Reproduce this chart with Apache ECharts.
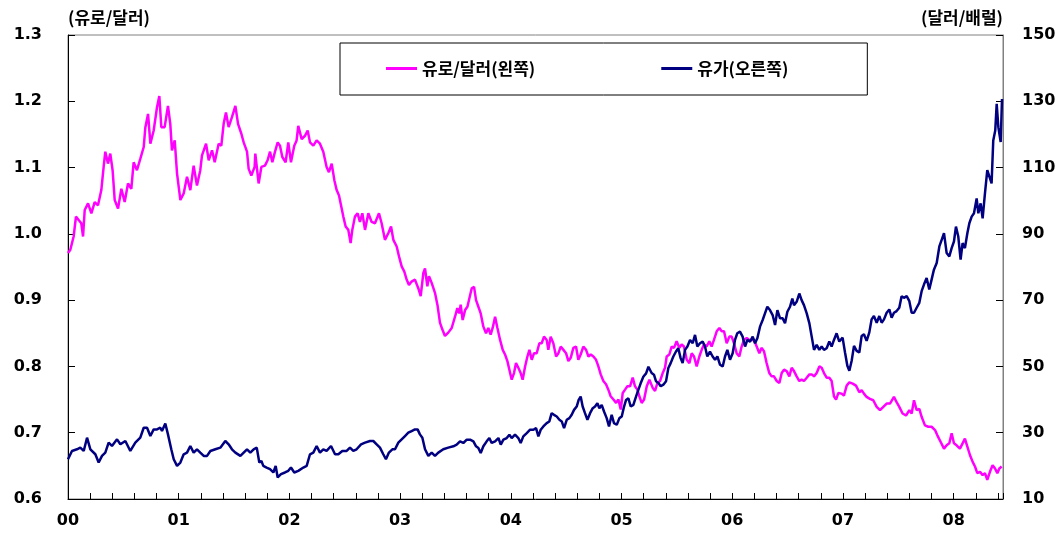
<!DOCTYPE html>
<html>
<head>
<meta charset="utf-8">
<script src="https://cdn.jsdelivr.net/npm/echarts@6/dist/echarts.min.js"></script>
<style>
html,body{margin:0;padding:0;background:#fff;}
#chart{width:1060px;height:536px;}
</style>
</head>
<body>
<div id="chart"></div>
<script>
// years since 2000 (x)
const euroYears = [0.000,0.021,0.051,0.072,0.096,0.120,0.136,0.151,0.181,0.211,0.241,0.271,0.301,0.322,0.337,0.361,0.382,0.403,0.422,0.452,0.482,0.512,0.542,0.572,0.593,0.623,0.653,0.684,0.699,0.723,0.744,0.774,0.804,0.825,0.843,0.873,0.903,0.924,0.939,0.964,0.985,1.015,1.045,1.075,1.105,1.135,1.165,1.195,1.210,1.247,1.271,1.301,1.325,1.361,1.385,1.406,1.427,1.451,1.481,1.512,1.536,1.566,1.587,1.617,1.632,1.656,1.686,1.692,1.722,1.747,
1.779,1.803,1.825,1.846,1.870,1.894,1.915,1.936,1.966,1.990,2.014,2.044,2.065,2.080,2.111,2.141,2.165,2.186,2.216,2.246,2.276,2.306,2.336,2.357,2.382,2.406,2.427,2.448,2.466,2.487,2.508,2.532,2.553,2.568,2.592,2.616,2.637,2.659,2.683,2.713,2.743,2.773,2.809,2.833,2.863,2.893,2.918,2.939,2.969,2.990,3.014,3.038,3.059,3.080,3.104,3.134,3.164,3.186,3.210,3.225,3.246,3.261,3.285,3.315,3.339,3.360,3.381,3.405,3.435,3.466,
3.475,3.496,3.517,3.535,3.547,3.565,3.587,3.608,3.626,3.647,3.668,3.686,3.707,3.728,3.752,3.776,3.797,3.818,3.836,3.858,3.879,3.903,3.927,3.948,3.969,3.987,4.008,4.029,4.047,4.068,4.089,4.107,4.129,4.150,4.168,4.189,4.210,4.234,4.258,4.279,4.300,4.324,4.339,4.360,4.384,4.409,4.430,4.451,4.475,4.499,4.520,4.541,4.565,4.589,4.610,4.631,4.655,4.680,4.701,4.722,4.746,4.770,4.791,4.812,4.836,4.860,4.881,4.902,4.927,4.951,4.972,4.993,5.011,5.032,5.053,5.077,5.101,5.122,5.143,5.161,5.182,5.204,5.228,5.252,
5.281,5.303,5.324,5.348,5.372,5.393,5.408,5.432,5.453,5.474,5.498,5.522,5.543,5.564,5.589,5.613,5.634,5.655,5.679,5.703,5.724,5.745,5.769,5.793,5.814,5.835,5.860,5.884,5.905,5.926,5.950,5.974,5.995,6.016,6.040,6.064,6.085,6.106,6.131,6.155,6.176,6.197,6.221,6.245,6.266,6.287,6.311,6.335,6.356,6.377,6.402,6.426,6.447,6.468,6.492,6.516,6.537,6.558,6.582,6.606,6.627,6.648,6.673,6.697,6.718,6.739,6.763,6.787,6.808,6.829,6.853,6.877,6.898,6.919,6.938,6.959,
6.988,7.009,7.034,7.058,7.088,7.118,7.148,7.169,7.190,7.214,7.244,7.274,7.305,7.335,7.365,7.395,7.425,7.461,7.485,7.509,7.539,7.570,7.600,7.621,7.642,7.666,7.690,7.711,7.741,7.771,7.801,7.832,7.853,7.883,7.913,7.937,7.961,7.982,8.003,8.027,8.057,8.081,8.102,8.124,8.148,8.172,8.193,8.214,8.238,8.262,8.283,8.304,8.328,8.352,8.374,8.395,8.413,8.434];
const euroValues = [0.971,0.976,0.996,1.026,1.021,1.016,0.996,1.036,1.046,1.031,1.048,1.043,1.066,1.101,1.124,1.106,1.121,1.096,1.051,1.038,1.068,1.048,1.076,1.068,1.108,1.096,1.113,1.131,1.161,1.181,1.136,1.156,1.191,1.208,1.161,1.161,1.193,1.166,1.126,1.141,1.091,1.051,1.061,1.086,1.066,1.103,1.073,1.096,1.118,1.136,1.111,1.126,1.108,1.136,1.133,1.166,1.183,1.161,1.176,1.193,1.166,1.151,1.138,1.124,1.098,1.088,1.101,1.121,1.076,1.101,
1.103,1.111,1.124,1.108,1.124,1.138,1.133,1.116,1.108,1.138,1.108,1.133,1.141,1.163,1.143,1.148,1.156,1.138,1.133,1.141,1.136,1.124,1.101,1.093,1.106,1.081,1.066,1.058,1.058,1.026,1.011,1.006,0.986,1.006,1.026,1.031,1.018,1.031,1.006,1.031,1.018,1.016,1.031,1.016,0.991,1.001,1.011,0.991,0.981,0.966,0.951,0.943,0.931,0.923,0.928,0.931,0.918,0.906,0.941,0.948,0.921,0.936,0.926,0.911,0.891,0.866,0.856,0.846,0.851,0.858,
0.860,0.875,0.888,0.880,0.893,0.870,0.885,0.890,0.888,0.918,0.920,0.900,0.890,0.880,0.860,0.850,0.858,0.848,0.858,0.875,0.858,0.840,0.825,0.818,0.808,0.805,0.780,0.790,0.805,0.798,0.790,0.780,0.800,0.815,0.825,0.810,0.820,0.820,0.835,0.835,0.845,0.840,0.825,0.845,0.835,0.815,0.820,0.830,0.825,0.820,0.808,0.813,0.828,0.830,0.810,0.818,0.830,0.825,0.815,0.818,0.815,0.810,0.800,0.788,0.778,0.773,0.765,0.755,0.750,0.745,0.750,0.735,0.760,0.765,0.770,0.770,0.783,0.770,0.765,0.755,0.745,0.750,0.770,0.780,
0.768,0.763,0.775,0.778,0.790,0.798,0.815,0.818,0.830,0.828,0.838,0.828,0.833,0.830,0.810,0.805,0.820,0.815,0.800,0.815,0.825,0.833,0.830,0.838,0.830,0.840,0.853,0.858,0.853,0.853,0.835,0.845,0.845,0.835,0.820,0.815,0.830,0.840,0.843,0.840,0.840,0.840,0.830,0.820,0.828,0.823,0.805,0.790,0.785,0.785,0.778,0.775,0.790,0.795,0.793,0.785,0.798,0.793,0.785,0.778,0.780,0.778,0.783,0.788,0.788,0.785,0.790,0.800,0.798,0.790,0.783,0.783,0.778,0.755,0.750,0.760,
0.759,0.756,0.771,0.776,0.774,0.771,0.761,0.764,0.759,0.754,0.751,0.749,0.739,0.734,0.739,0.744,0.744,0.754,0.746,0.739,0.729,0.726,0.734,0.729,0.749,0.734,0.736,0.724,0.711,0.709,0.709,0.704,0.696,0.686,0.676,0.681,0.684,0.699,0.684,0.681,0.676,0.684,0.691,0.679,0.666,0.656,0.649,0.639,0.641,0.636,0.639,0.629,0.641,0.651,0.646,0.639,0.646,0.649];

const oilYears = [0.000,0.036,0.081,0.111,0.142,0.172,0.202,0.247,0.277,0.307,0.337,0.367,0.397,0.443,0.473,0.518,0.563,0.608,0.653,0.684,0.714,0.744,0.774,0.804,0.834,0.849,0.879,0.903,0.933,0.955,0.985,1.015,1.045,1.075,1.105,1.135,1.165,1.195,1.226,1.256,1.286,1.331,1.376,1.421,1.451,1.481,1.512,1.557,1.587,1.617,1.647,1.677,1.705,1.728,1.747,
1.764,1.794,1.825,1.855,1.876,1.894,1.924,1.960,1.990,2.014,2.044,2.080,2.126,2.156,2.186,2.216,2.246,2.276,2.306,2.336,2.376,2.412,2.442,2.478,2.517,2.547,2.577,2.607,2.647,2.683,2.728,2.758,2.788,2.818,2.848,2.872,2.899,2.930,2.954,2.984,3.014,3.044,3.074,3.104,3.134,3.158,3.179,3.201,3.225,3.255,3.285,3.315,3.345,3.390,3.435,
3.481,3.511,3.541,3.571,3.602,3.632,3.662,3.686,3.707,3.728,3.752,3.782,3.806,3.827,3.858,3.888,3.909,3.933,3.963,3.987,4.008,4.038,4.068,4.089,4.113,4.144,4.174,4.204,4.228,4.249,4.270,4.294,4.324,4.348,4.369,4.390,4.415,4.439,4.460,4.481,4.505,4.529,4.550,4.571,4.595,4.613,4.631,4.649,4.670,4.692,4.716,4.740,4.761,4.782,4.800,4.821,4.842,4.866,4.887,4.911,4.932,4.957,4.981,5.002,5.023,5.041,5.062,5.083,5.107,5.131,5.152,5.173,5.197,5.222,5.243,
5.257,5.272,5.293,5.312,5.333,5.354,5.378,5.402,5.423,5.444,5.468,5.492,5.513,5.534,5.552,5.574,5.595,5.619,5.643,5.664,5.685,5.709,5.733,5.754,5.775,5.799,5.823,5.845,5.866,5.890,5.914,5.935,5.956,5.980,6.004,6.025,6.046,6.070,6.094,6.116,6.137,6.161,6.185,6.206,6.227,6.251,6.275,6.296,6.317,6.341,6.365,6.387,6.408,6.432,6.456,6.477,6.498,6.522,6.543,6.558,6.582,6.606,6.627,6.648,6.673,6.697,6.718,6.739,6.763,6.787,6.808,6.829,6.853,6.877,6.898,6.919,6.943,6.967,
6.997,7.019,7.040,7.058,7.079,7.100,7.124,7.148,7.169,7.190,7.214,7.238,7.259,7.280,7.305,7.329,7.350,7.371,7.395,7.419,7.440,7.461,7.485,7.509,7.530,7.551,7.576,7.600,7.621,7.642,7.666,7.690,7.711,7.732,7.756,7.780,7.801,7.822,7.847,7.871,7.892,7.913,7.937,7.961,7.982,8.003,8.021,8.042,8.063,8.081,8.102,8.124,8.142,8.163,8.184,8.208,8.223,8.244,8.262,8.283,8.304,8.322,8.343,8.358,8.376,8.389,8.404,8.425,8.437];
const oilValues = [22,24.5,25,25.5,24.5,28.5,25,23.5,21,23,24,27,26,28,26.5,27.5,24.5,27,28.5,31.5,31.5,29,31,31,31.5,30.5,32.8,29.5,25,22,20,21,23.5,24,26,24,25,24,23,23,24.5,25,25.5,27.5,26.5,25,24,23,24,25,24,25,25.5,21,21.5,
20,19.5,19,18,20,16.5,17.5,18,18.5,19.5,18,18.5,19.5,20,23.5,24,26,24,25,24.5,26,23.5,23.5,24.5,24.5,25.5,24.5,25,26.5,27,27.5,27.5,26.5,25.5,23.5,22,24,25,25,27,28,29,30,30.5,31,31,29.5,28.5,25,23,24,23,24,25,25.5,
25.9,26.4,27.4,26.9,27.9,27.9,27.4,25.9,25.4,23.9,25.9,27.4,28.4,26.9,27.4,28.4,26.4,27.9,28.4,29.4,28.4,29.4,28.4,26.9,28.9,29.9,30.9,30.9,31.4,28.9,30.9,31.9,32.9,33.4,35.9,35.4,34.9,33.9,33.4,31.4,33.9,34.4,35.4,36.9,37.9,39.9,40.9,37.9,35.9,33.9,35.9,37.4,37.9,38.9,37.4,38.4,36.4,34.4,31.9,35.4,32.9,32.4,34.4,34.9,37.9,39.9,40.4,37.9,38.4,40.9,42.9,44.9,46.9,47.9,49.9,
50.5,48,47.5,45.5,45,44,44.5,45.5,49.5,51,53,54.5,55.5,52.5,51,55,56,58,57,59.5,56,57,57.5,56,53,54.5,53,52,53,50.5,50,53,55,52,54,58,60,60.5,59,56,58,57.5,59,57,58.5,62,64,66,68,67,65.5,62.5,67,64.5,64.5,63,66.5,68,70.5,68.5,69.5,72,70,68.5,66,63,59,55,56.5,55,56,55,55.5,57.5,56,58,60,57.5,
58.7,54.2,50.2,48.7,51.7,56.2,54.7,54.2,59.2,59.7,57.7,60.2,64.2,65.2,63.2,65.2,63.2,64.2,66.2,67.2,64.7,66.2,66.7,67.7,71.2,70.7,71.2,69.7,66.2,66.2,67.7,69.2,72.7,74.7,76.7,73.2,76.2,79.2,81.2,86.2,88.2,90.2,84.2,83.2,85.7,87.7,92.2,89.2,82.2,87.2,85.7,90.2,93.2,95.2,96.2,100.7,96.2,99.2,94.7,102.2,109.2,109.7,105.2,118.2,121.2,129.2,122.2,117.7,130.7];

const seriesNames = ['유로/달러(왼쪽)', '유가(오른쪽)'];
const leftAxisName = '(유로/달러)';
const rightAxisName = '(달러/배럴)';

const zip = (xs, ys) => xs.map((x, i) => [x, ys[i]]);
const numFont = "'DejaVu Sans', 'Noto Sans CJK KR', sans-serif";
const krFont = "'Noto Sans CJK KR', sans-serif";

const chart = echarts.init(document.getElementById('chart'), null, {renderer: 'canvas'});
chart.setOption({
  animation: false,
  backgroundColor: '#ffffff',
  grid: {
    left: 68, right: 57, top: 35, bottom: 37,
    show: true, borderColor: '#808080', borderWidth: 1,
    containLabel: false, outerBoundsMode: 'none'
  },
  legend: {
    left: 340, top: 43,
    orient: 'horizontal',
    padding: [17, 79, 18, 46],
    itemGap: 126,
    icon: 'rect',
    itemWidth: 31, itemHeight: 3,
    borderColor: '#000', borderWidth: 1,
    backgroundColor: '#fff',
    textStyle: {fontFamily: krFont, fontWeight: 'bold', fontSize: 17, color: '#000', lineHeight: 17},
    data: seriesNames
  },
  xAxis: {
    type: 'value', min: 0, max: 8.446, interval: 1,
    axisLine: {show: true, onZero: false, lineStyle: {color: '#000', width: 1}},
    axisTick: {show: true, inside: true, length: 6, lineStyle: {color: '#000'}},
    minorTick: {show: true, splitNumber: 110, length: 6, lineStyle: {color: '#000', width: 1}},
    splitLine: {show: false},
    axisLabel: {
      margin: 14, color: '#000', fontFamily: numFont, fontWeight: 'bold', fontSize: 16,
      showMaxLabel: false,
      formatter: v => Number.isInteger(v) ? String(v).padStart(2, '0') : ''
    }
  },
  yAxis: [
    {
      type: 'value', min: 0.6, max: 1.3, interval: 0.1, position: 'left',
      name: leftAxisName, nameLocation: 'end', nameGap: 17,
      nameTextStyle: {fontFamily: krFont, fontWeight: 'bold', fontSize: 17, color: '#000', align: 'left', verticalAlign: 'middle'},
      axisLine: {show: true, lineStyle: {color: '#000', width: 1}},
      axisTick: {show: true, inside: true, length: 7, lineStyle: {color: '#000'}},
      splitLine: {show: false},
      axisLabel: {margin: 26, color: '#000', fontFamily: numFont, fontWeight: 'bold', fontSize: 16,
        formatter: v => v.toFixed(1)}
    },
    {
      type: 'value', min: 10, max: 150, interval: 20, position: 'right',
      name: rightAxisName, nameLocation: 'end', nameGap: 17,
      nameTextStyle: {fontFamily: krFont, fontWeight: 'bold', fontSize: 17, color: '#000', align: 'right', verticalAlign: 'middle'},
      axisLine: {show: true, lineStyle: {color: '#808080', width: 1}},
      axisTick: {show: true, inside: true, length: 7, lineStyle: {color: '#000'}},
      splitLine: {show: false},
      axisLabel: {margin: 19, color: '#000', fontFamily: numFont, fontWeight: 'bold', fontSize: 16}
    }
  ],
  series: [
    {
      name: seriesNames[0], type: 'line', yAxisIndex: 0,
      data: zip(euroYears, euroValues),
      symbol: 'none', showSymbol: false,
      lineStyle: {color: '#FF00FF', width: 2.5},
      itemStyle: {color: '#FF00FF'}
    },
    {
      name: seriesNames[1], type: 'line', yAxisIndex: 1,
      data: zip(oilYears, oilValues),
      symbol: 'none', showSymbol: false,
      lineStyle: {color: '#000080', width: 2.5},
      itemStyle: {color: '#000080'}
    }
  ]
});
</script>
</body>
</html>
